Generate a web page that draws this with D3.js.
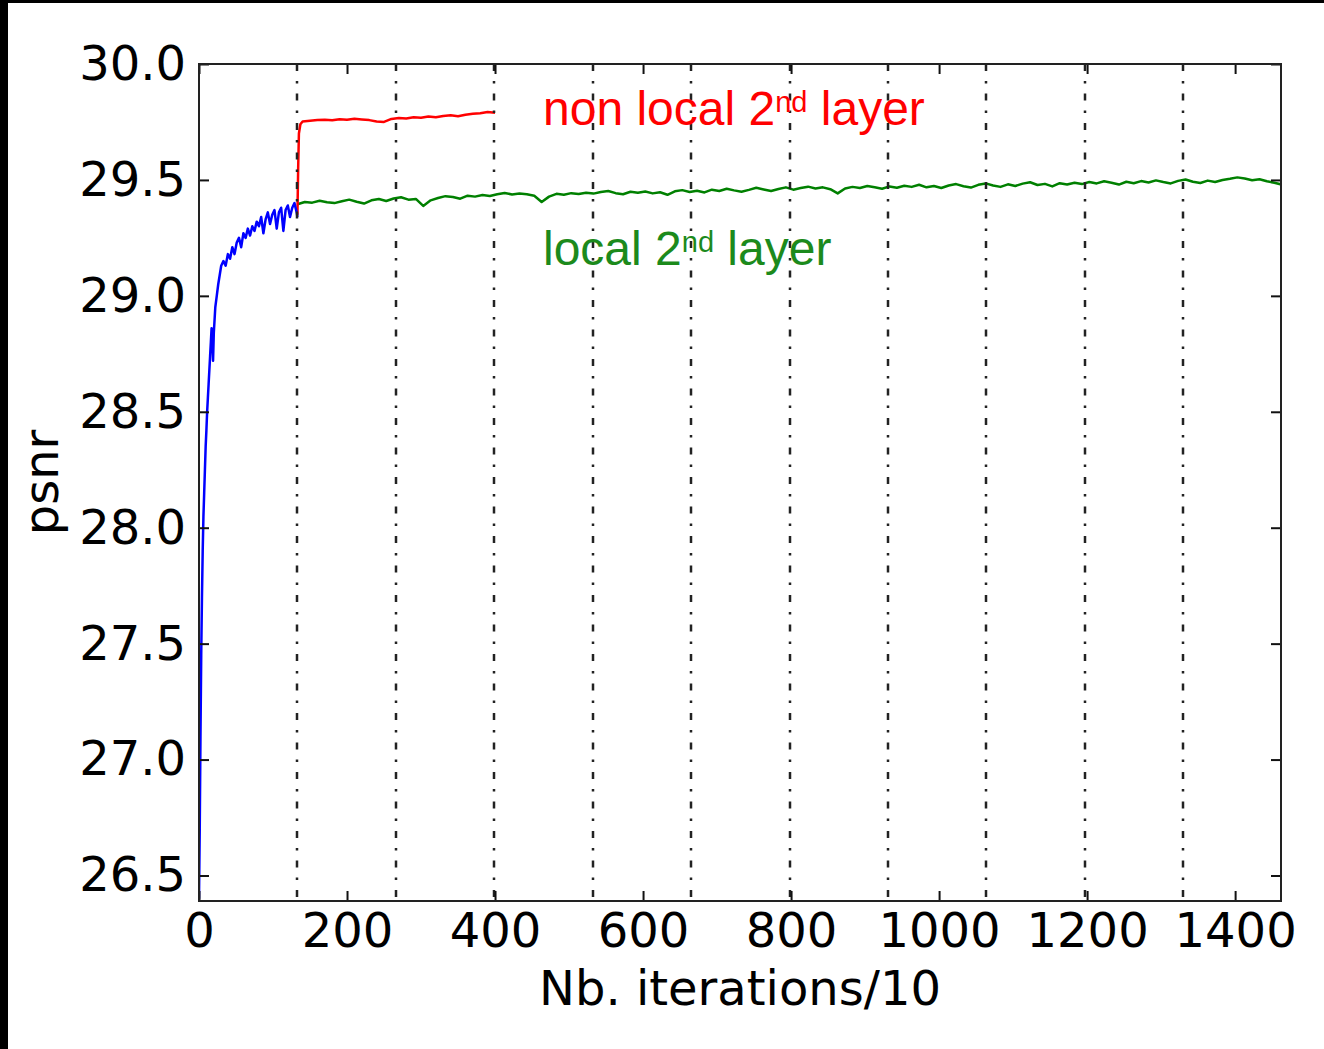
<!DOCTYPE html>
<html>
<head>
<meta charset="utf-8">
<script src="https://cdn.jsdelivr.net/npm/d3@7"></script>
<style>
  html, body { margin: 0; padding: 0; background: #fff; }
  svg { display: block; }
  .tick text { font-family: "DejaVu Sans", sans-serif; font-size: 48px; fill: #000; }
  .axis path { display: none; }
  .axis line { stroke: #111; stroke-width: 2; }
</style>
</head>
<body>
<svg id="chart" width="1324" height="1049"></svg>
<script>
// blue: first layer, iterations/10 and psnr
var blueX = [0, 1, 2, 3, 4, 5, 6, 7, 8, 9, 10, 11, 12, 13, 14, 15, 16, 17, 18, 19, 20, 22, 24, 26, 28, 30,
  33, 36, 39, 42, 45, 48, 51, 54, 57, 60, 63, 66, 69, 72, 75, 78, 81, 84, 87, 90, 93, 96, 99, 102,
  105, 108, 111, 114, 117, 120, 123, 126, 129, 132, 133];
var blueY = [26.40, 26.70, 27.10, 27.45, 27.70, 27.90, 28.05, 28.15, 28.25, 28.35, 28.42, 28.50, 28.56, 28.62, 28.68, 28.74, 28.80, 28.86, 28.82, 28.72, 28.84, 28.95, 29.00, 29.05, 29.09, 29.13,
  29.15, 29.13, 29.18, 29.16, 29.21, 29.18, 29.23, 29.25, 29.21, 29.27, 29.25, 29.29, 29.26, 29.30, 29.28, 29.32, 29.30, 29.34, 29.27, 29.33, 29.36, 29.31, 29.35, 29.37,
  29.29, 29.36, 29.38, 29.28, 29.37, 29.39, 29.34, 29.38, 29.40, 29.36, 29.34];

// red: non local 2nd layer
var redX = [133, 134, 135, 137, 140, 150, 160, 170, 180, 190, 200, 210, 220, 230, 240, 250, 260, 270, 280, 290,
  300, 310, 320, 330, 340, 350, 360, 370, 380, 390, 400];
var redY = [29.35, 29.55, 29.70, 29.74, 29.752, 29.755, 29.758, 29.760, 29.757, 29.762, 29.760, 29.764, 29.761, 29.758, 29.752, 29.750, 29.763, 29.767, 29.765, 29.770,
  29.768, 29.774, 29.770, 29.776, 29.779, 29.775, 29.781, 29.785, 29.788, 29.793, 29.790];

// green: local 2nd layer, one value every 10 units starting at 133
var greenStart = 133;
var greenStep = 10;
var greenY = [29.395, 29.405, 29.402, 29.410, 29.404, 29.400, 29.408, 29.415, 29.406, 29.398,
  29.412, 29.418, 29.409, 29.420, 29.425, 29.415, 29.418, 29.388, 29.412, 29.422,
  29.430, 29.426, 29.419, 29.432, 29.428, 29.435, 29.431, 29.438, 29.444, 29.437,
  29.441, 29.438, 29.432, 29.405, 29.428, 29.440, 29.436, 29.443, 29.439, 29.445,
  29.441, 29.448, 29.452, 29.443, 29.438, 29.449, 29.445, 29.450, 29.442, 29.447,
  29.436, 29.451, 29.456, 29.448, 29.453, 29.446, 29.458, 29.452, 29.462, 29.455,
  29.449, 29.457, 29.466, 29.459, 29.452, 29.461, 29.468, 29.458, 29.465, 29.471,
  29.463, 29.468, 29.460, 29.442, 29.463, 29.470, 29.465, 29.474, 29.468, 29.462,
  29.472, 29.466, 29.475, 29.470, 29.479, 29.468, 29.474, 29.465, 29.476, 29.482,
  29.473, 29.467, 29.479, 29.485, 29.476, 29.470, 29.481, 29.474, 29.484, 29.490,
  29.478, 29.483, 29.472, 29.486, 29.480, 29.488, 29.482, 29.491, 29.485, 29.494,
  29.488, 29.480, 29.492, 29.486, 29.495, 29.489, 29.498, 29.491, 29.485, 29.496,
  29.502, 29.492, 29.487, 29.497, 29.491, 29.500, 29.505, 29.511, 29.506, 29.499,
  29.503, 29.494, 29.488, 29.480];

var xTicks = [0, 200, 400, 600, 800, 1000, 1200, 1400];
var yTicks = [26.5, 27.0, 27.5, 28.0, 28.5, 29.0, 29.5, 30.0];
var stageLines = [133, 266, 399, 532, 665, 798, 931, 1064, 1197, 1330];

var labels = [
  {text: "non local 2", sup: "nd", rest: " layer", color: "#ff0000", x: 543, y: 125},
  {text: "local 2", sup: "nd", rest: " layer", color: "#1c8a1c", x: 543, y: 265}
];

var svg = d3.select("#chart");
var plotLeft = 199, plotRight = 1281, plotTop = 64, plotBottom = 901;

svg.append("rect").attr("width", 1324).attr("height", 1049).attr("fill", "#fff");
// black border of the screenshot
svg.append("rect").attr("x", 0).attr("y", 0).attr("width", 8).attr("height", 1049).attr("fill", "#000");
svg.append("rect").attr("x", 0).attr("y", 0).attr("width", 1324).attr("height", 3).attr("fill", "#000");

var x = d3.scaleLinear().domain([0, 1462]).range([plotLeft, plotRight]);
var y = d3.scaleLinear().domain([26.39, 30.0]).range([plotBottom, plotTop]);

svg.append("clipPath").attr("id", "clip")
  .append("rect").attr("x", plotLeft).attr("y", plotTop)
  .attr("width", plotRight - plotLeft).attr("height", plotBottom - plotTop);

var line = d3.line().x(function(d) { return x(d[0]); }).y(function(d) { return y(d[1]); });

var plot = svg.append("g").attr("clip-path", "url(#clip)");

var greenData = greenY.map(function(v, i) { return [greenStart + i * greenStep, v]; });
var redData = redX.map(function(v, i) { return [v, redY[i]]; });
var blueData = blueX.map(function(v, i) { return [v, blueY[i]]; });

plot.append("path").datum(greenData).attr("d", line)
  .attr("fill", "none").attr("stroke", "#008000").attr("stroke-width", 2.5).attr("stroke-linejoin", "round");
plot.append("path").datum(redData).attr("d", line)
  .attr("fill", "none").attr("stroke", "#ff0000").attr("stroke-width", 2.5).attr("stroke-linejoin", "round");
plot.append("path").datum(blueData).attr("d", line)
  .attr("fill", "none").attr("stroke", "#0000ff").attr("stroke-width", 2.5).attr("stroke-linejoin", "round");

// dash-dot markers where a new stage starts
plot.selectAll(".stage").data(stageLines).enter().append("line")
  .attr("class", "stage")
  .attr("x1", function(d) { return Math.round(x(d)); })
  .attr("x2", function(d) { return Math.round(x(d)); })
  .attr("y1", plotTop).attr("y2", plotBottom)
  .attr("stroke", "#222").attr("stroke-width", 2.5)
  .attr("stroke-dasharray", "7,10,2.5,10");

// axes with inward ticks on all four sides
svg.append("g").attr("class", "axis").attr("transform", "translate(0," + plotBottom + ")")
  .call(d3.axisBottom(x).tickValues(xTicks).tickSizeInner(-10).tickSizeOuter(0).tickPadding(12).tickFormat(d3.format("d")));
svg.append("g").attr("class", "axis").attr("transform", "translate(0," + plotTop + ")")
  .call(d3.axisTop(x).tickValues(xTicks).tickSizeInner(-10).tickSizeOuter(0).tickFormat(""));
svg.append("g").attr("class", "axis").attr("transform", "translate(" + plotLeft + ",0)")
  .call(d3.axisLeft(y).tickValues(yTicks).tickSizeInner(-10).tickSizeOuter(0).tickPadding(13).tickFormat(d3.format(".1f")));
svg.append("g").attr("class", "axis").attr("transform", "translate(" + plotRight + ",0)")
  .call(d3.axisRight(y).tickValues(yTicks).tickSizeInner(-10).tickSizeOuter(0).tickFormat(""));

svg.append("rect").attr("x", plotLeft).attr("y", plotTop)
  .attr("width", plotRight - plotLeft).attr("height", plotBottom - plotTop)
  .attr("fill", "none").attr("stroke", "#222").attr("stroke-width", 2);

svg.append("text").attr("x", (plotLeft + plotRight) / 2).attr("y", 1005)
  .attr("text-anchor", "middle").attr("font-family", "DejaVu Sans").attr("font-size", 48)
  .text("Nb. iterations/10");
svg.append("text").attr("transform", "translate(58," + (plotTop + plotBottom) / 2 + ") rotate(-90)")
  .attr("text-anchor", "middle").attr("font-family", "DejaVu Sans").attr("font-size", 48)
  .text("psnr");

labels.forEach(function(l) {
  var t = svg.append("text").attr("x", l.x).attr("y", l.y)
    .attr("font-family", "Liberation Sans, Arial, sans-serif").attr("font-size", 48).attr("fill", l.color);
  t.append("tspan").text(l.text);
  t.append("tspan").attr("font-size", 29).attr("dy", -13).text(l.sup);
  t.append("tspan").attr("dy", 13).text(l.rest);
});
</script>
</body>
</html>
